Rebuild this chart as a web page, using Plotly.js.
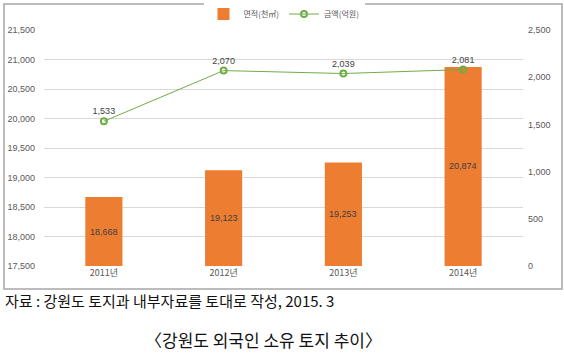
<!DOCTYPE html>
<html><head><meta charset="utf-8">
<script src="https://cdn.plot.ly/plotly-3.0.1.min.js"></script>
<style>html,body{margin:0;padding:0;background:#fff;}#chart{width:564px;height:358px;}</style>
</head><body><div id="chart"></div>
<script>
const years = ['2011년','2012년','2013년','2014년'];
const areaValues = [18668, 19123, 19253, 20874];
const amountValues = [1533, 2070, 2039, 2081];
const areaName = '면적(천㎡)';
const amountName = '금액(억원)';
const sourceText = '자료 : 강원도 토지과 내부자료를 토대로 작성, 2015. 3';
const captionText = '〈강원도 외국인 소유 토지 추이〉';
const areaAxisMin = 17500;

const fmt = v => v.toLocaleString('en-US');
const numFont = {family:'Liberation Sans, Arial, sans-serif', size:9, color:'#595959'};
const labelFont = {family:'Liberation Sans, Arial, sans-serif', size:9, color:'#404040'};

const traces = [
  {type:'bar', x:years, y:areaValues, name:areaName, marker:{color:'#ED7D31'},
   width:0.31, textposition:'none'},
  {type:'scatter', mode:'lines+markers+text', x:years, y:amountValues, yaxis:'y2', name:amountName,
   line:{color:'#70AD47', width:1}, marker:{symbol:'circle-open', size:6, color:'#70AD47', line:{width:2, color:'#70AD47'}},
   text:amountValues.map(fmt), textposition:'top center', textfont:labelFont}
];

const P = (px) => (px-44)/479;
const Q = (py) => (266-py)/236;

// bar value labels centred in the visible part of each bar
const barLabels = years.map((yr, i) => ({
  x: yr, y: (areaValues[i] + areaAxisMin) / 2, xref:'x', yref:'y',
  text: fmt(areaValues[i]), showarrow:false, font:labelFont
}));

const layout = {
  width:564, height:358,
  margin:{l:44, r:41, t:30, b:92, autoexpand:false},
  paper_bgcolor:'#fff', plot_bgcolor:'#fff',
  showlegend:true,
  legend:{orientation:'h', x:P(284), xanchor:'center', y:Q(14), yanchor:'middle',
    font:{family:'Noto Sans CJK KR, sans-serif', size:8, color:'#595959'}, traceorder:'normal',
    itemwidth:30},
  xaxis:{type:'category', showgrid:false, zeroline:false, showline:false, ticks:'',
    tickfont:{family:'Noto Sans CJK KR, sans-serif', size:9, color:'#595959'}, ticklabelstandoff:0},
  yaxis:{range:[areaAxisMin,21500], dtick:500, tickformat:',d', showgrid:true, gridcolor:'#D9D9D9', gridwidth:1,
    zeroline:false, showline:false, ticks:'', tickfont:numFont, ticklabelstandoff:8},
  yaxis2:{range:[0,2500], dtick:500, tickformat:',d', overlaying:'y', side:'right', showgrid:false,
    zeroline:false, showline:false, ticks:'', tickfont:numFont, ticklabelstandoff:4},
  shapes:[{type:'rect', xref:'paper', yref:'paper', x0:P(4), x1:P(562), y0:Q(289), y1:Q(4),
    line:{color:'#A6A6A6', width:1.5}, fillcolor:'rgba(0,0,0,0)', layer:'below'}],
  annotations: barLabels.concat([
    {xref:'paper', yref:'paper', x:P(3), y:Q(300), xanchor:'left', yanchor:'middle', showarrow:false,
     text:sourceText, font:{family:'Noto Sans CJK KR, sans-serif', size:15, color:'#111'}},
    {xref:'paper', yref:'paper', x:P(263), y:Q(339), xanchor:'center', yanchor:'middle', showarrow:false,
     text:captionText, font:{family:'Noto Sans CJK KR, sans-serif', size:17, color:'#111'}}
  ])
};

Plotly.newPlot('chart', traces, layout, {staticPlot:true, displayModeBar:false});
</script></body></html>
